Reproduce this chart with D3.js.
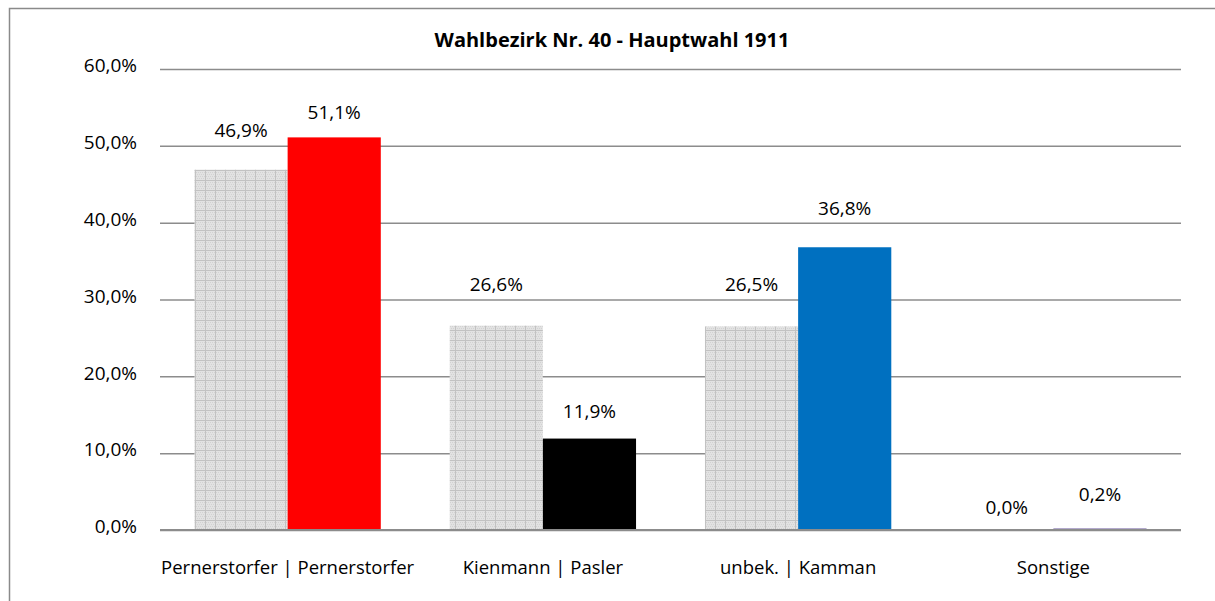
<!DOCTYPE html>
<html><head><meta charset="utf-8">
<script src="https://cdn.jsdelivr.net/npm/d3@7"></script>
<style>
html,body{margin:0;padding:0;background:#fff;overflow:hidden;}
svg{display:block;font-family:"Open Sans",sans-serif;}
</style></head>
<body>
<svg id="c" width="1215" height="601"></svg>
<script>
const title = "Wahlbezirk Nr. 40 - Hauptwahl 1911";
const categories = ["Pernerstorfer | Pernerstorfer", "Kienmann | Pasler", "unbek. | Kamman", "Sonstige"];
const prevValues = [46.9, 26.6, 26.5, 0.0];
const mainValues = [51.1, 11.9, 36.8, 0.2];
const mainColors = ["#ff0000", "#000000", "#0070c0", "#7060a0"];
const yTicks = [0, 10, 20, 30, 40, 50, 60];
const prevLabelLift = [33, 35, 35, 16];
const mainLabelLift = [18, 21, 32, 27];

const svg = d3.select("#c");
const W = 1215, H = 601;
const m = {left:160, right:34, top:69, bottom:71};
const FONT = "'Open Sans', sans-serif";
const FS = 19;

// frame
svg.append("path").attr("d", `M9.5,${H+5} V8.5 H${W+5}`)
  .attr("fill","none").attr("stroke","#8a8a8a").attr("stroke-width",1.5);

// pattern
const defs = svg.append("defs");
const pat = defs.append("pattern").attr("id","grid").attr("patternUnits","userSpaceOnUse")
  .attr("width",10).attr("height",10).attr("x",195).attr("y",0);
pat.append("rect").attr("width",10).attr("height",10).attr("fill","#e2e2e2");
for (let i=0;i<10;i+=2) for (let j=0;j<10;j+=2) {
  pat.append("rect").attr("x",i+((j/2)%2)).attr("y",j).attr("width",1).attr("height",1).attr("fill","#d2d2d2");
}
pat.append("rect").attr("x",0).attr("y",0).attr("width",10).attr("height",1).attr("fill","#c2c2c2");
pat.append("rect").attr("x",0).attr("y",0).attr("width",1).attr("height",10).attr("fill","#c2c2c2");

const x = d3.scaleBand().domain(categories).range([m.left, W-m.right]).paddingInner(0.27).paddingOuter(0.135);
const xs = d3.scaleBand().domain(["prev","main"]).range([0, x.bandwidth()]);
const y = d3.scaleLinear().domain([0,60]).range([H-m.bottom, m.top]);
const fmt = v => d3.format(".1f")(v).replace(".", ",") + "%";

// gridlines
const yAxis = d3.axisLeft(y).tickValues(yTicks).tickSize(-(W-m.right-m.left)).tickPadding(23).tickFormat(fmt);
const gy = svg.append("g").attr("transform",`translate(${m.left},0)`).call(yAxis)
  .attr("font-family", FONT).attr("font-size", FS);
gy.select(".domain").remove();
gy.selectAll(".tick line").attr("stroke","#8c8c8c").attr("stroke-width",1.5);
gy.selectAll(".tick text").attr("fill","#000").attr("dy","0.14em");

// bars
const g = svg.append("g").attr("font-family", FONT).attr("font-size", FS);
categories.forEach((c,i)=>{
  const x0 = x(c);
  g.append("rect").attr("x",x0+xs("prev")).attr("width",xs.bandwidth())
    .attr("y",y(prevValues[i])).attr("height",y(0)-y(prevValues[i])).attr("fill","url(#grid)");
  g.append("rect").attr("x",x0+xs("main")).attr("width",xs.bandwidth())
    .attr("y",y(mainValues[i])).attr("height",Math.max(1.5,y(0)-y(mainValues[i]))).attr("fill",mainColors[i]);
  g.append("text").attr("x",x0+xs("prev")+xs.bandwidth()/2).attr("y",y(prevValues[i])-prevLabelLift[i])
    .attr("text-anchor","middle").text(fmt(prevValues[i]));
  g.append("text").attr("x",x0+xs("main")+xs.bandwidth()/2).attr("y",y(mainValues[i])-mainLabelLift[i])
    .attr("text-anchor","middle").text(fmt(mainValues[i]));
});

// baseline
svg.append("line").attr("x1",m.left).attr("x2",W-m.right).attr("y1",y(0)).attr("y2",y(0))
  .attr("stroke","#8c8c8c").attr("stroke-width",2);

// x labels
const xAxis = d3.axisBottom(x).tickSize(0).tickPadding(31);
const gx = svg.append("g").attr("transform",`translate(0,${y(0)})`).call(xAxis)
  .attr("font-family", FONT).attr("font-size", 18.5);
gx.select(".domain").remove();
gx.selectAll(".tick text").attr("fill","#000");

// title
svg.append("text").attr("x",612).attr("y",47).attr("text-anchor","middle")
  .attr("font-family", FONT).attr("font-size",20).attr("font-weight","bold").text(title);
</script>
</body></html>
